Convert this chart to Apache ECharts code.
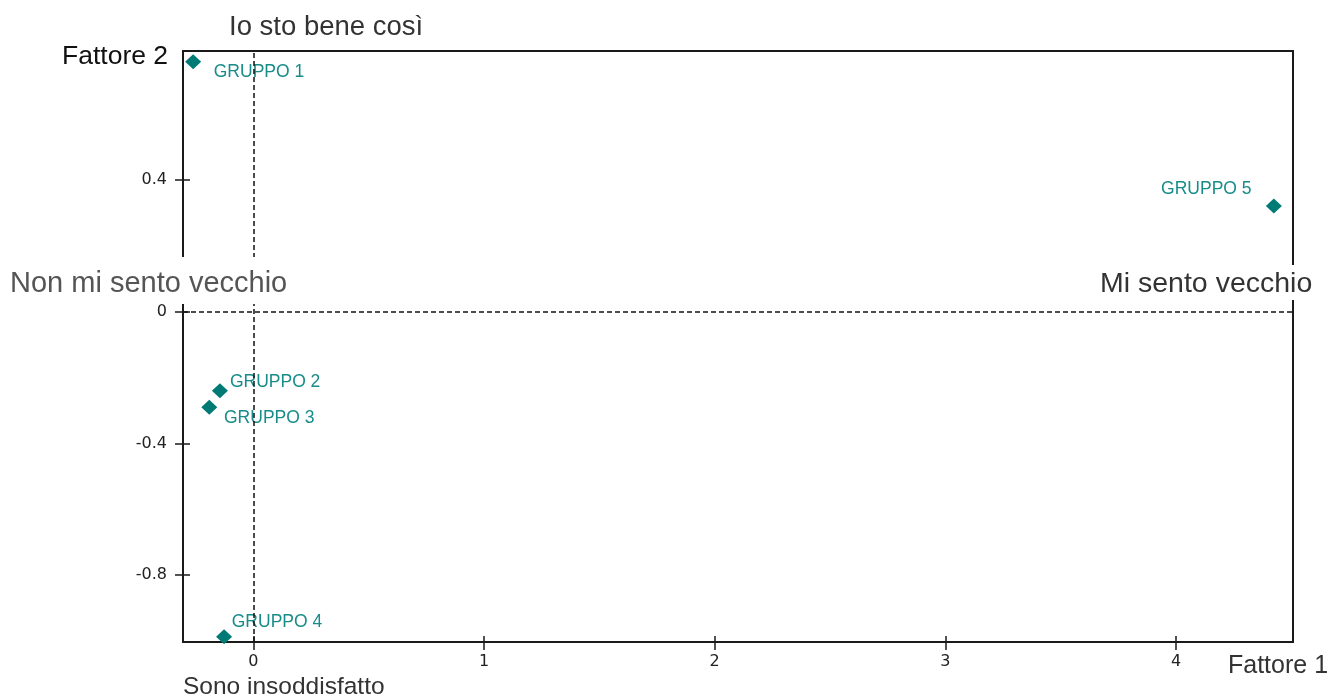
<!DOCTYPE html>
<html>
<head>
<meta charset="utf-8">
<script src="https://cdn.jsdelivr.net/npm/echarts@6/dist/echarts.min.js"></script>
<style>
html,body{margin:0;padding:0;background:#fff;}
#chart{width:1331px;height:697px;}
</style>
</head>
<body>
<div id="chart"></div>
<script>
// ---- data ----
const groups = ['GRUPPO 1', 'GRUPPO 2', 'GRUPPO 3', 'GRUPPO 4', 'GRUPPO 5'];
const fattore1 = [-0.261, -0.145, -0.191, -0.127, 4.424];
const fattore2 = [0.759, -0.240, -0.290, -0.987, 0.321];
const xTickValues = [0, 1, 2, 3, 4];
const yTickValues = [-0.8, -0.4, 0, 0.4];
const xRange = [-0.305, 4.507];
const yRange = [-1.003, 0.792];

// ---- label placement (style only) ----
const labelPlacement = {
  'GRUPPO 1': { offset: [20.6, 10.6], align: 'left' },
  'GRUPPO 2': { offset: [10, -8.4], align: 'left' },
  'GRUPPO 3': { offset: [14.7, 11], align: 'left' },
  'GRUPPO 4': { offset: [7.7, -15], align: 'left' },
  'GRUPPO 5': { offset: [-22.3, -16.7], align: 'right' }
};

const FONT = "'Liberation Sans', Arial, sans-serif";
const TICKFONT = "'DejaVu Sans', sans-serif";

const points = groups.map((g, i) => ({
  name: g,
  value: [fattore1[i], fattore2[i]],
  label: {
    show: true,
    position: 'inside',
    formatter: '{b}',
    offset: labelPlacement[g].offset,
    align: labelPlacement[g].align,
    verticalAlign: 'middle',
    color: '#178c88',
    fontFamily: FONT,
    fontSize: 17.5
  }
}));

function xAxisDef(inside, showLabel) {
  return {
    type: 'value', min: xRange[0], max: xRange[1], position: 'bottom',
    axisLine: { show: false, onZero: false },
    splitLine: { show: false },
    axisTick: { show: true, inside: inside, length: inside ? 6 : 8, customValues: xTickValues,
      lineStyle: { color: '#1a1a1a', width: 1.5 } },
    axisLabel: { show: showLabel, customValues: xTickValues, margin: 12,
      color: '#222', fontFamily: TICKFONT, fontSize: 16 }
  };
}
function yAxisDef(inside, showLabel) {
  return {
    type: 'value', min: yRange[0], max: yRange[1], position: 'left',
    axisLine: { show: false, onZero: false },
    splitLine: { show: false },
    axisTick: { show: true, inside: inside, length: inside ? 7 : 8, customValues: yTickValues,
      lineStyle: { color: '#1a1a1a', width: 1.5 } },
    axisLabel: { show: showLabel, customValues: yTickValues, margin: 16,
      color: '#222', fontFamily: TICKFONT, fontSize: 16 }
  };
}

const chart = echarts.init(document.getElementById('chart'), null, { renderer: 'canvas' });
chart.setOption({
  animation: false,
  backgroundColor: '#fff',
  grid: { left: 183, right: 38, top: 51, bottom: 55, show: true,
    borderColor: '#1a1a1a', borderWidth: 2, backgroundColor: 'transparent' },
  xAxis: [xAxisDef(false, true), xAxisDef(true, false)],
  yAxis: [yAxisDef(false, true), yAxisDef(true, false)],
  series: [{
    type: 'scatter',
    xAxisIndex: 0, yAxisIndex: 0,
    symbol: 'diamond',
    symbolSize: [16, 15],
    itemStyle: { color: '#007a75', opacity: 1 },
    data: points,
    markLine: {
      silent: true,
      symbol: 'none',
      label: { show: false },
      lineStyle: { color: '#111', width: 1.5, type: [5, 3] },
      data: [{ xAxis: 0 }, { yAxis: 0 }]
    },
    z: 3
  }],
  graphic: [
    { type: 'rect', z: 100, shape: { x: 170, y: 257, width: 125, height: 47 }, style: { fill: '#fff' } },
    { type: 'rect', z: 100, shape: { x: 1285, y: 265, width: 20, height: 35 }, style: { fill: '#fff' } },
    { type: 'text', z: 101, x: 229, y: 27, style: { text: 'Io sto bene così', fill: '#333',
      font: '27.5px ' + FONT, verticalAlign: 'middle' } },
    { type: 'text', z: 101, x: 62, y: 57, style: { text: 'Fattore 2', fill: '#111',
      font: '26.5px ' + FONT, verticalAlign: 'middle' } },
    { type: 'text', z: 101, x: 10, y: 284, style: { text: 'Non mi sento vecchio', fill: '#555',
      font: '29px ' + FONT, verticalAlign: 'middle' } },
    { type: 'text', z: 101, x: 1100, y: 284, style: { text: 'Mi sento vecchio', fill: '#333',
      font: '28.5px ' + FONT, verticalAlign: 'middle' } },
    { type: 'text', z: 101, x: 183, y: 687, style: { text: 'Sono insoddisfatto', fill: '#333',
      font: '24.5px ' + FONT, verticalAlign: 'middle' } },
    { type: 'text', z: 101, x: 1228, y: 666, style: { text: 'Fattore 1', fill: '#333',
      font: '25px ' + FONT, verticalAlign: 'middle' } }
  ]
});
</script>
</body>
</html>
